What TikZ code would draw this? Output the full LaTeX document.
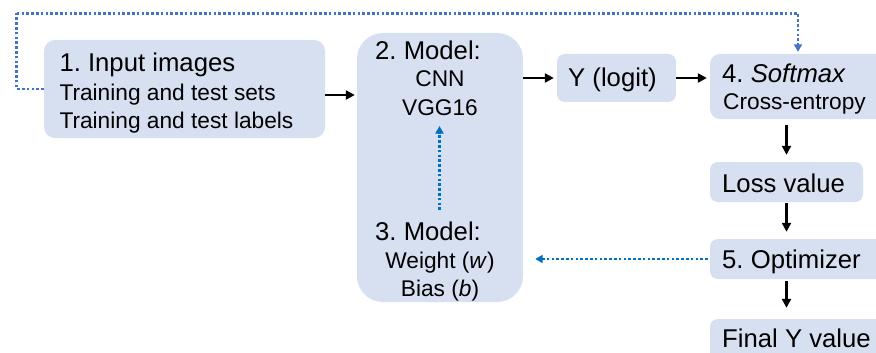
\documentclass[tikz,border=0pt]{standalone}
\usepackage{fontspec}
\setmainfont{Liberation Sans}
\usetikzlibrary{arrows.meta}
\definecolor{boxfill}{HTML}{D6E0F0}
\definecolor{loopblue}{HTML}{4472C4}
\definecolor{dotblue}{HTML}{0070C0}
\newcommand\BigT{\fontsize{25.7}{28}\selectfont}
\newcommand\SmT{\fontsize{22.7}{28}\selectfont}
\frenchspacing
\begin{document}
\begin{tikzpicture}[x=1pt,y=-1pt,
  box/.style={fill=boxfill,draw=none,inner sep=0pt,rounded corners=#1},
  box/.default=9pt,
  tl/.style={anchor=base west,inner sep=0pt,font=\BigT},
  sl/.style={anchor=base west,inner sep=0pt,font=\SmT},
  sc/.style={anchor=base,inner sep=0pt,font=\SmT},
  arr/.style={line width=2.3pt,-{Triangle[length=9pt,width=9pt]}},
  darr/.style={line width=2.8pt,dash pattern=on 2.6pt off 2.2pt,-{Triangle[length=7.5pt,width=8pt]}},
]
\useasboundingbox (0,0) rectangle (876,353);
\clip (0,0) rectangle (876,353);
\fill[white] (0,0) rectangle (876,353);
% boxes
\node[box=11pt,minimum width=281pt,minimum height=98pt] (in) at (184.5,89) {};
\node[box=26pt,minimum width=166pt,minimum height=269pt] (model) at (440,167.5) {};
\node[box=8pt,minimum width=119pt,minimum height=48pt] (ylog) at (616.5,78) {};
\node[box=10pt,minimum width=176pt,minimum height=65pt] (soft) at (798,86.5) {};
\node[box=8pt,minimum width=153pt,minimum height=40pt] (loss) at (786.5,182) {};
\node[box=8pt,minimum width=176pt,minimum height=40pt] (opt) at (798,259) {};
\node[box=8pt,minimum width=176pt,minimum height=44pt] (final) at (798,341) {};
% texts
\node[tl] (t1) at (59.3,71.7) {1. Input images};
\node[sl] (t1a) at (59.3,100) {Training and test sets};
\node[sl] (t1b) at (59.3,128.3) {Training and test labels};
\node[tl] (t2) at (375,60) {2. Model:};
\node[sc] (t2a) at (440,86.7) {CNN};
\node[sc] (t2b) at (440,115) {VGG16};
\node[tl] (t3) at (375,240) {3. Model:};
\node[sc] (t3a) at (440,268) {Weight (\textit{w})};
\node[sc] (t3b) at (440,296.5) {Bias (\textit{b})};
\node[tl] (ty) at (568,87) {Y (logit)};
\node[tl] (t4) at (722,82) {4. \textit{Softmax}};
\node[sl] (t4a) at (723,110) {Cross-entropy};
\node[tl] (tl) at (722,192) {Loss value};
\node[tl] (to) at (722,268) {5. Optimizer};
\node[tl] (tf) at (722,347) {Final Y value};
% black arrows
\draw[arr] ([yshift=-6pt]in.east) -- ([xshift=-2pt,yshift=-6pt]model.west |- in.east);
\draw[arr] (model.east |- ylog.west) -- ([xshift=-3pt]ylog.west);
\draw[arr] (ylog.east) -- ([xshift=-3pt]soft.west |- ylog.east);
\draw[arr] ([yshift=-6pt]soft.south -| loss.north) -- ([yshift=7pt]loss.north);
\draw[arr] ([yshift=-1pt]loss.south) -- ([yshift=7pt]loss.south |- opt.north);
\draw[arr] ([yshift=-2pt]opt.south -| loss.south) -- ([yshift=11pt]final.north -| loss.south);
% blue dotted arrows
\coordinate (loopL) at (16.7,13.3);
\draw[darr,loopblue,-] (in.west) -| (loopL);
\draw[darr,loopblue] (loopL) -| ([yshift=2pt]soft.north);
\coordinate (dlow) at (439.5,210);
\coordinate (dhigh) at (439.5,126);
\draw[darr,dotblue] (dlow) -- (dhigh);
\draw[darr,dotblue] ([xshift=-2pt]opt.west) -- ([xshift=12pt]model.east |- opt.west);
\end{tikzpicture}
\end{document}
